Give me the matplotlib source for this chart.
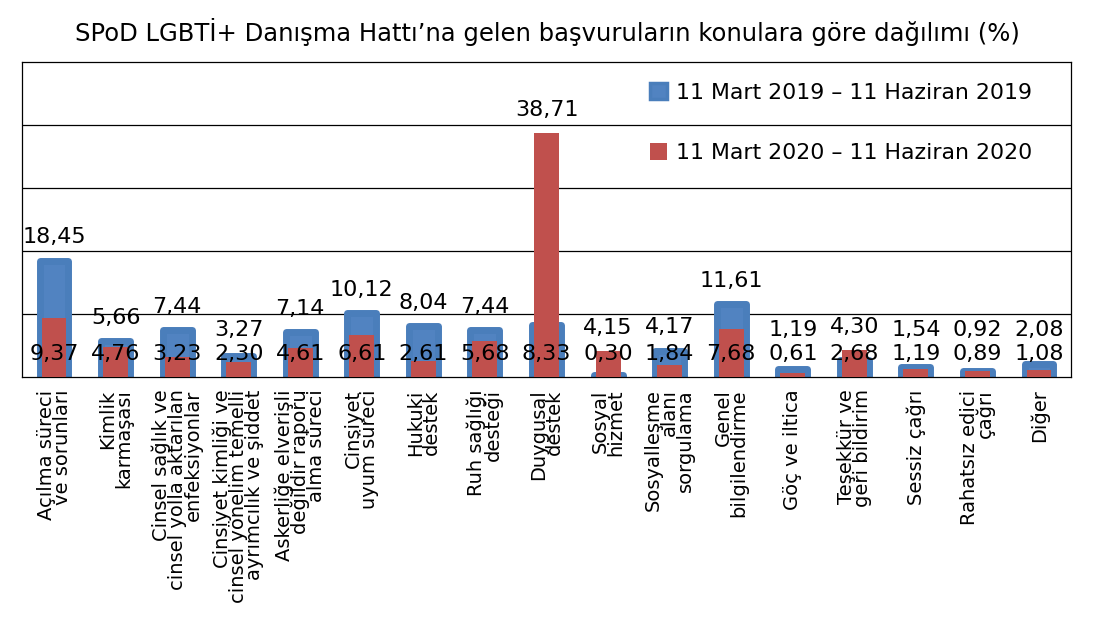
import matplotlib.pyplot as plt
from matplotlib.patches import Patch

kategoriler = [
    "Açılma süreci\nve sorunları",
    "Kimlik\nkarmaşası",
    "Cinsel sağlık ve\ncinsel yolla aktarılan\nenfeksiyonlar",
    "Cinsiyet kimliği ve\ncinsel yönelim temelli\nayrımcılık ve şiddet",
    "Askerliğe elverişli\ndeğildir raporu\nalma süreci",
    "Cinsiyet\nuyum süreci",
    "Hukuki\ndestek",
    "Ruh sağlığı\ndesteği",
    "Duygusal\ndestek",
    "Sosyal\nhizmet",
    "Sosyalleşme\nalanı\nsorgulama",
    "Genel\nbilgilendirme",
    "Göç ve iltica",
    "Teşekkür ve\ngeri bildirim",
    "Sessiz çağrı",
    "Rahatsız edici\nçağrı",
    "Diğer",
]
donem_2019 = [18.45, 5.66, 7.44, 3.27, 7.14, 10.12, 8.04, 7.44, 8.33, 0.30,
              4.17, 11.61, 1.19, 2.68, 1.54, 0.92, 2.08]
donem_2020 = [9.37, 4.76, 3.23, 2.30, 4.61, 6.61, 2.61, 5.68, 38.71, 4.15,
              1.84, 7.68, 0.61, 4.30, 1.19, 0.89, 1.08]
etiket_2019 = "11 Mart 2019 – 11 Haziran 2019"
etiket_2020 = "11 Mart 2020 – 11 Haziran 2020"

mavi_kenar = "#4a7ebb"
mavi_ic = "#5183c1"
kirmizi = "#c0504d"

plt.rcParams["font.family"] = ["DejaVu Sans"]

fig = plt.figure(figsize=(10.94, 6.4), dpi=100)
ax = fig.add_axes([0.0201, 0.411, 0.9589, 0.492])

x = list(range(len(kategoriler)))

# genis mavi cubuklar (kalin kenarli), icinde dar kirmizi cubuklar
ax.bar(x, donem_2019, width=0.47, color=mavi_ic, edgecolor=mavi_kenar,
       linewidth=5, joinstyle="round", zorder=2)
ax.bar(x, donem_2020, width=0.405, color=kirmizi, zorder=3)

# deger etiketleri: buyuk olan ustte, kucuk olan alt sirada
for i in x:
    a = donem_2019[i]
    b = donem_2020[i]
    ust = max(a, b)
    alt = min(a, b)
    y_ust = max(ust + 3.7, 7.4)
    ax.text(i, y_ust, f"{ust:.2f}".replace(".", ","), ha="center",
            va="center", fontsize=16, zorder=5)
    ax.text(i, 3.7, f"{alt:.2f}".replace(".", ","), ha="center",
            va="center", fontsize=16, zorder=5)

ax.set_xlim(-0.52, 16.52)
ax.set_ylim(0, 50)
ax.set_yticks([])
for g in [10, 20, 30, 40]:
    ax.axhline(g, color="black", linewidth=0.9, zorder=1)

ax.set_xticks(x)
ax.set_xticklabels(kategoriler, rotation=90, ha="center", va="top",
                   multialignment="right", fontsize=14, linespacing=0.8)
ax.tick_params(axis="x", length=0, pad=9)

for s in ax.spines.values():
    s.set_color("black")
    s.set_linewidth(0.9)

tutamaklar = [
    Patch(facecolor=mavi_ic, edgecolor=mavi_kenar, linewidth=2.5,
          joinstyle="round"),
    Patch(facecolor=kirmizi, edgecolor="none"),
]
ax.legend(tutamaklar, [etiket_2019, etiket_2020], loc="upper left",
          bbox_to_anchor=(0.599, 0.935), frameon=False, fontsize=15.8,
          labelspacing=1.85, handlelength=0.75, handleheight=0.75,
          handletextpad=0.4, borderpad=0, borderaxespad=0)

fig.suptitle("SPoD LGBTİ+ Danışma Hattı’na gelen başvuruların konulara göre dağılımı (%)",
             x=0.5, y=0.95, va="center", fontsize=17.5)

fig.savefig("out.png", dpi=100)
